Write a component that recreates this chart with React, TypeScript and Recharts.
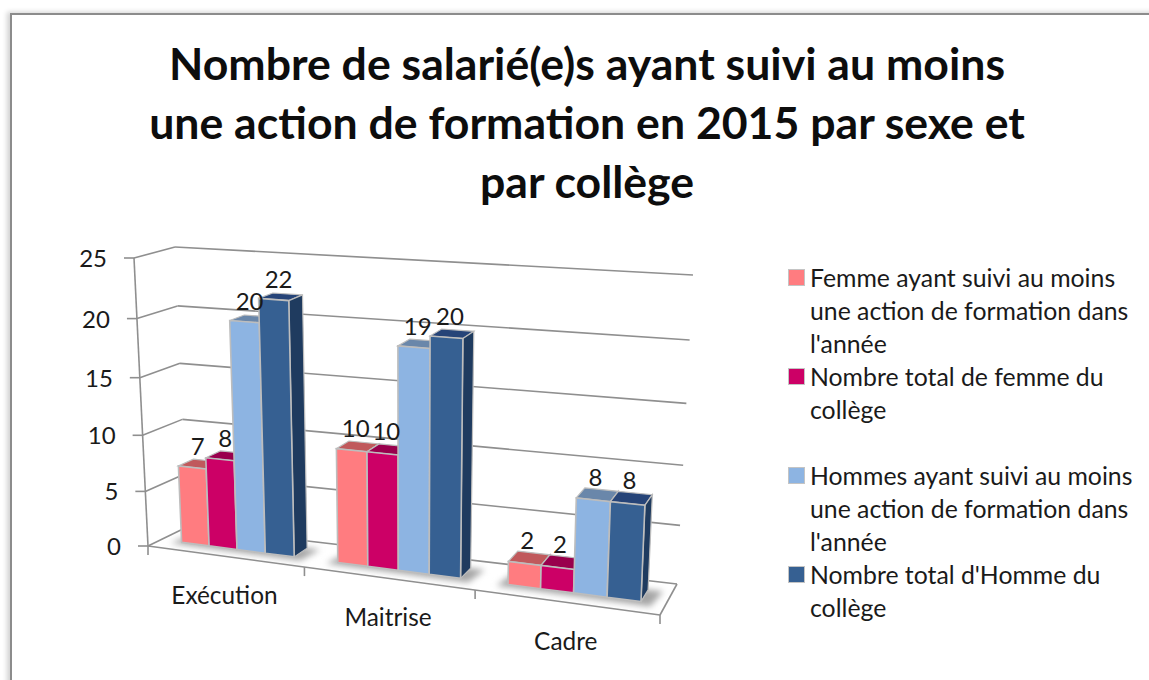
import { BarChart, Bar, XAxis, YAxis, CartesianGrid, Legend, LabelList } from 'recharts';

const FONT = 'Lato, sans-serif';
const TITLE_LINES = [
  'Nombre de salarié(e)s ayant suivi au moins',
  'une action de formation en 2015 par sexe et',
  'par collège',
];

const CATEGORIES = ['Exécution', 'Maitrise', 'Cadre'];
const FEMMES_FORMEES = [7, 10, 2];
const FEMMES_TOTAL = [8, 10, 2];
const HOMMES_FORMES = [20, 19, 8];
const HOMMES_TOTAL = [22, 20, 8];
const Y_TICKS = [0, 5, 10, 15, 20, 25];

const SERIES_NAMES = [
  "Femme ayant suivi au moins une action de formation dans l'année",
  'Nombre total de femme du collège',
  "Hommes ayant suivi au moins une action de formation dans l'année",
  "Nombre total d'Homme du collège",
];
const FRONT_COLORS = ['#FF7C80', '#CC0066', '#8DB4E2', '#366092'];
const TOP_COLORS = ['#C0595C', '#99004D', '#6A87AA', '#264478'];
const SIDE_COLORS = ['#B85A5D', '#8F0048', '#5F7FA6', '#1F3B5F'];

const chartData = CATEGORIES.map((name, i) => ({
  name,
  femmesFormees: FEMMES_FORMEES[i],
  femmesTotal: FEMMES_TOTAL[i],
  hommesFormes: HOMMES_FORMES[i],
  hommesTotal: HOMMES_TOTAL[i],
}));

// flat plot area, everything is then projected on the tilted box of the 3D chart
const LEFT = 150;
const TOP = 258;
const W = 510;
const H = 288;
const AXIS_SIZE = 2;
const BOX = {
  frontBottom: [[148, 546], [660, 615]],
  frontTop: [[134, 258], [673, 295]],
  backBottom: [[187, 527], [677, 584]],
  backTop: [[175, 247], [693, 275]],
};
const BAR_FRONT = 0.33;
const BAR_BACK = 0.72;
const GRID = '#8f8f8f';
const EDGE = '#bdbdbd';

const lerp = (a: number, b: number, t: number) => a + (b - a) * t;
const lerp2 = (p: number[], q: number[], t: number) => [lerp(p[0], q[0], t), lerp(p[1], q[1], t)];

function warp(px: number, py: number, depth: number) {
  const u0 = (px - LEFT) / W;
  const v0 = (TOP + H - py) / H;
  const u = u0 - 0.125 * u0 * (1 - u0);
  const v = v0 - 0.065 * v0 * (1 - v0);
  const front = lerp2(lerp2(BOX.frontBottom[0], BOX.frontBottom[1], u), lerp2(BOX.frontTop[0], BOX.frontTop[1], u), v);
  const back = lerp2(lerp2(BOX.backBottom[0], BOX.backBottom[1], u), lerp2(BOX.backTop[0], BOX.backTop[1], u), v);
  return lerp2(front, back, depth);
}

const pts = (list: number[][]) => list.map((p) => `${p[0].toFixed(1)},${p[1].toFixed(1)}`).join(' ');

function Seg({ a, b }: { a: number[]; b: number[] }) {
  return <line x1={a[0]} y1={a[1]} x2={b[0]} y2={b[1]} stroke={GRID} strokeWidth={1.6} />;
}

function GridLine(props: any) {
  const { x1, x2, y1 } = props;
  const isFloor = Math.abs(y1 - (TOP + H)) < 0.5;
  return (
    <g key={`grid-${y1}`}>
      <Seg a={warp(x1, y1, 0)} b={warp(x1, y1, 1)} />
      <Seg a={warp(x1, y1, 1)} b={warp(x2, y1, 1)} />
      {isFloor && (
        <>
          <Seg a={warp(x1, y1, 0)} b={warp(x2, y1, 0)} />
          <Seg a={warp(x2, y1, 0)} b={warp(x2, y1, 1)} />
          <Seg a={warp(x1, y1, 0)} b={warp(x1, TOP, 0)} />
        </>
      )}
    </g>
  );
}

function YTick(props: any) {
  const { payload } = props;
  const p = warp(LEFT, payload.coordinate, 0);
  return (
    <g>
      <line x1={p[0] - 10} y1={p[1]} x2={p[0]} y2={p[1]} stroke={GRID} strokeWidth={1.6} />
      <text x={p[0] - 27} y={p[1] + 9} textAnchor="end" fontFamily={FONT} fontSize={24} fill="#1a1a1a">
        {payload.value}
      </text>
    </g>
  );
}

function XTick(props: any) {
  const { payload, index } = props;
  const band = W / CATEGORIES.length;
  const p = warp(payload.coordinate, TOP + H, 0);
  const a = warp(payload.coordinate - band / 2, TOP + H, 0);
  const b = warp(payload.coordinate + band / 2, TOP + H, 0);
  return (
    <g>
      <line x1={a[0]} y1={a[1]} x2={a[0]} y2={a[1] + 9} stroke={GRID} strokeWidth={1.6} />
      {index === CATEGORIES.length - 1 && (
        <line x1={b[0]} y1={b[1]} x2={b[0]} y2={b[1] + 9} stroke={GRID} strokeWidth={1.6} />
      )}
      <text x={p[0]} y={p[1] + 48} textAnchor="middle" fontFamily={FONT} fontSize={24.4} fill="#1a1a1a">
        {payload.value}
      </text>
    </g>
  );
}

function Bar3D(props: any) {
  const { x, y, width, height, seriesIndex } = props;
  const bottom = y + height;
  const fbl = warp(x, bottom, BAR_FRONT);
  const fbr = warp(x + width, bottom, BAR_FRONT);
  const ftr = warp(x + width, y, BAR_FRONT);
  const ftl = warp(x, y, BAR_FRONT);
  const bbr = warp(x + width, bottom, BAR_BACK);
  const btr = warp(x + width, y, BAR_BACK);
  const btl = warp(x, y, BAR_BACK);
  return (
    <g>
      {seriesIndex === 0 && (
        <polygon
          points={pts([
            warp(x - 9, bottom, 0.24),
            warp(x + width * 4 + 10, bottom, 0.22),
            warp(x + width * 4 + 14, bottom, 0.72),
            warp(x - 4, bottom, 0.72),
          ])}
          fill="#a6a6a6"
          style={{ filter: 'blur(3px)' }}
        />
      )}
      <polygon points={pts([ftl, ftr, btr, btl])} fill={TOP_COLORS[seriesIndex]} stroke={EDGE} strokeWidth={1.2} />
      <polygon points={pts([ftr, fbr, bbr, btr])} fill={SIDE_COLORS[seriesIndex]} stroke={EDGE} strokeWidth={1.2} />
      <polygon points={pts([fbl, fbr, ftr, ftl])} fill={FRONT_COLORS[seriesIndex]} stroke={EDGE} strokeWidth={1.6} />
    </g>
  );
}

function BarLabel(props: any) {
  const { x, y, width, value } = props;
  const p = warp(x + width / 2, y, (BAR_FRONT + BAR_BACK) / 2);
  return (
    <text x={p[0] - 2} y={p[1] - 9} textAnchor="middle" fontFamily={FONT} fontSize={24} fill="#1a1a1a">
      {value}
    </text>
  );
}

function LegendBox({ payload }: any) {
  return (
    <div style={{ fontFamily: FONT, fontSize: 24.8, lineHeight: '33px', color: '#1a1a1a', textAlign: 'left' }}>
      {(payload || []).map((item: any, i: number) => (
        <div key={item.value} style={{ position: 'relative', paddingLeft: 25, marginBottom: i === 1 ? 33 : 0 }}>
          <span
            style={{
              position: 'absolute',
              left: 4,
              top: 9,
              width: 15,
              height: 15,
              background: item.color,
              outline: '1px solid #c4c4c4',
            }}
          />
          {item.value}
        </div>
      ))}
    </div>
  );
}

const KEYS = ['femmesFormees', 'femmesTotal', 'hommesFormes', 'hommesTotal'];

export default function App() {
  return (
    <div style={{ position: 'absolute', left: 0, top: 0, width: 1149, height: 680, background: '#fff', overflow: 'hidden' }}>
      <div
        style={{
          position: 'absolute',
          left: 10,
          top: 13,
          width: 1200,
          height: 720,
          borderLeft: '2px solid #8c8c8c',
          borderTop: '2px solid #8c8c8c',
          boxShadow: '-3px -1px 5px rgba(0,0,0,0.18)',
        }}
      />
      <BarChart
        width={1149}
        height={680}
        data={chartData}
        margin={{ left: LEFT - AXIS_SIZE, top: TOP, right: 1149 - LEFT - W, bottom: 680 - TOP - H - AXIS_SIZE }}
        barCategoryGap="14%"
        barGap={0}
        style={{ position: 'absolute', left: 0, top: 0 }}
      >
        <CartesianGrid horizontal={GridLine} vertical={false} />
        <XAxis dataKey="name" height={AXIS_SIZE} axisLine={false} tickLine={false} interval={0} tick={XTick} />
        <YAxis width={AXIS_SIZE} domain={[0, 25]} ticks={Y_TICKS} axisLine={false} tickLine={false} tick={YTick} />
        <Legend
          layout="horizontal"
          verticalAlign="middle"
          align="center"
          itemSorter={null}
          content={LegendBox}
          wrapperStyle={{ left: 785, top: 261, width: 352 }}
        />
        {KEYS.map((key, i) => (
          <Bar
            key={key}
            dataKey={key}
            name={SERIES_NAMES[i]}
            fill={FRONT_COLORS[i]}
            isAnimationActive={false}
            shape={(p: any) => <Bar3D {...p} seriesIndex={i} />}
          >
            <LabelList dataKey={key} content={BarLabel} />
          </Bar>
        ))}
      </BarChart>
      {TITLE_LINES.map((line, i) => (
        <div
          key={line}
          style={{
            position: 'absolute',
            left: 0,
            width: 1174,
            top: 33 + i * 59,
            textAlign: 'center',
            fontFamily: FONT,
            fontWeight: 700,
            fontSize: 44.6,
            lineHeight: '59px',
            color: '#0d0d0d',
            whiteSpace: 'nowrap',
          }}
        >
          {line}
        </div>
      ))}
    </div>
  );
}
